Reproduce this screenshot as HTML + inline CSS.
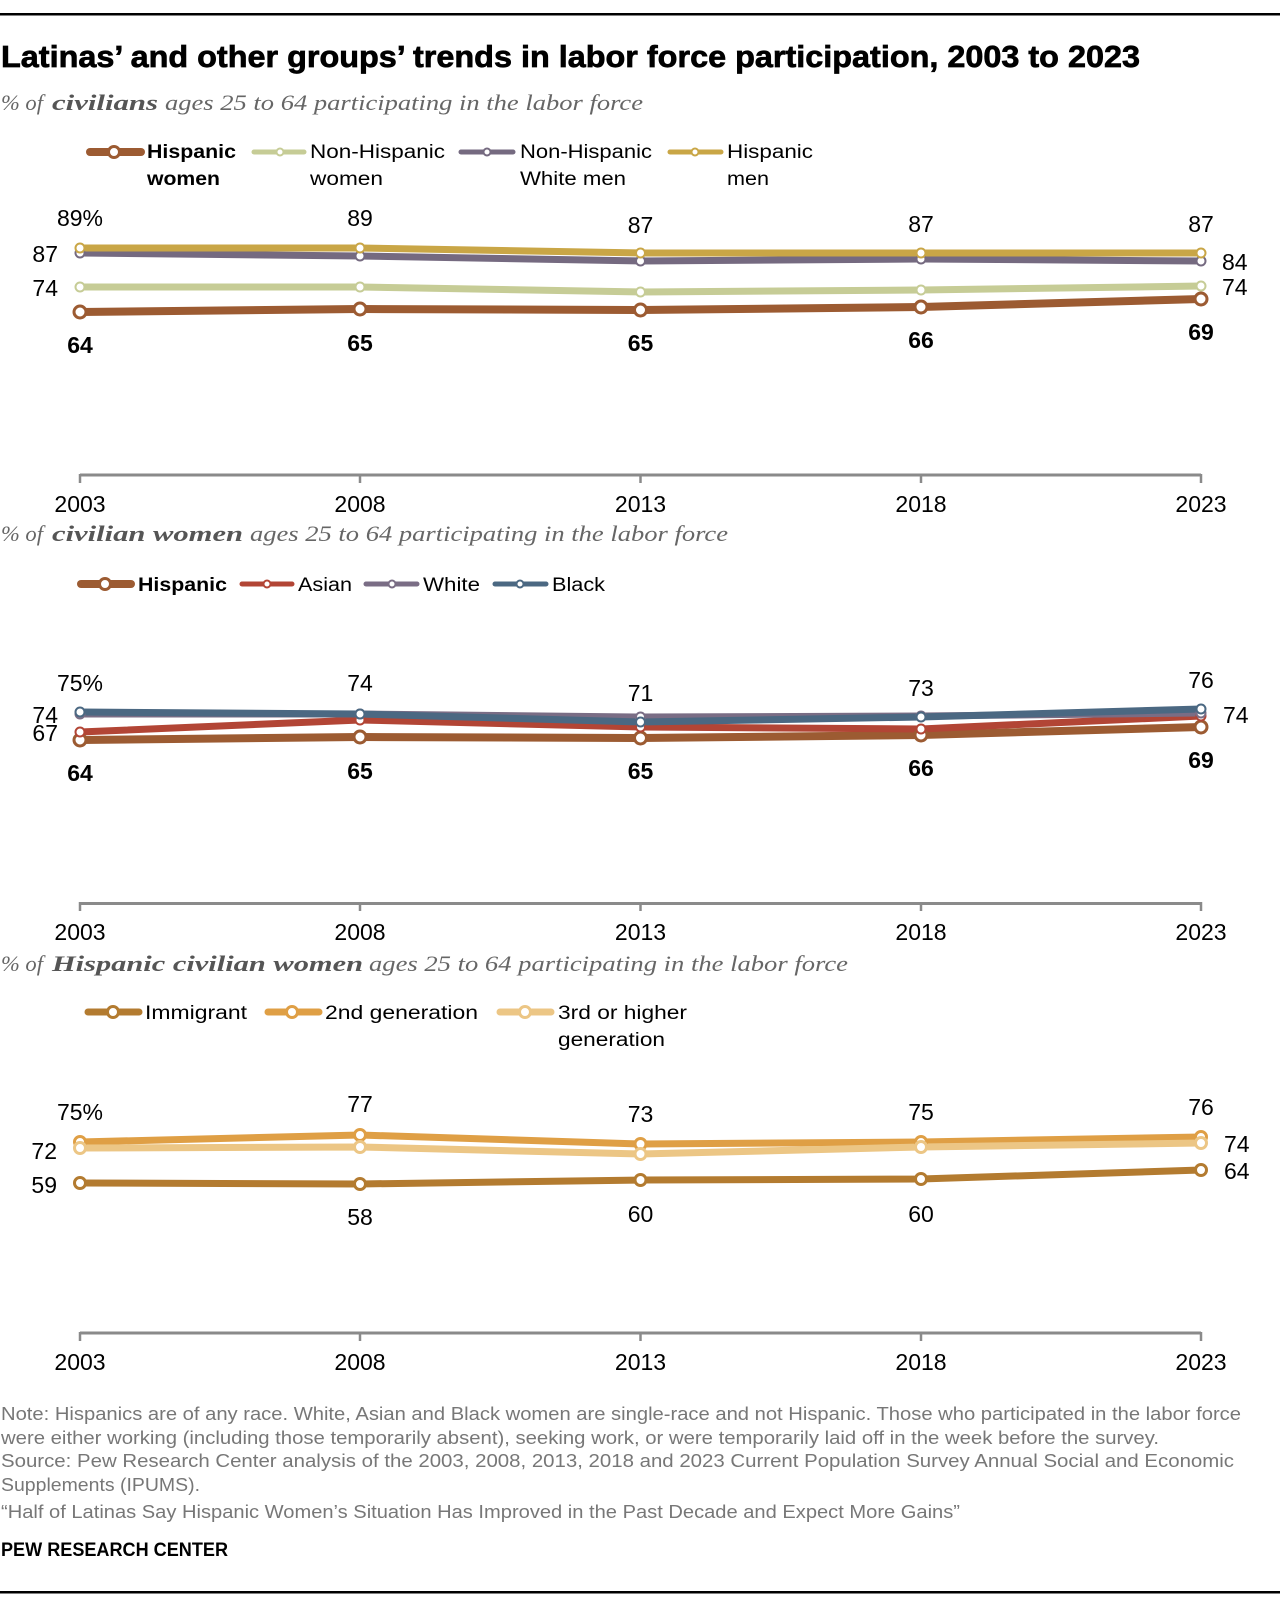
<!DOCTYPE html>
<html>
<head>
<meta charset="utf-8">
<style>
  html,body{margin:0;padding:0;background:#fff;}
  svg{display:block;}
  .t{font-family:"Liberation Sans",sans-serif;}
  .s{font-family:"Liberation Serif",serif;font-style:italic;}
</style>
</head>
<body>
<svg width="1280" height="1608" viewBox="0 0 1280 1608" xmlns="http://www.w3.org/2000/svg">
  <rect width="1280" height="1608" fill="#fff"/>
  <!-- top rule -->
  <rect x="0" y="13" width="1280" height="2.5" fill="#000"/>

  <!-- Title -->
  <text class="t" x="1" y="67" font-size="31" font-weight="bold" fill="#000" stroke="#000" stroke-width="0.7" textLength="1139" lengthAdjust="spacingAndGlyphs">Latinas’ and other groups’ trends in labor force participation, 2003 to 2023</text>

  <!-- Subtitle 1 -->
  <text class="s" x="1" y="110" font-size="22" fill="#666" textLength="42" lengthAdjust="spacingAndGlyphs">% of</text>
  <text class="s" x="52" y="110" font-size="22" font-weight="bold" fill="#555" textLength="106" lengthAdjust="spacingAndGlyphs">civilians</text>
  <text class="s" x="165" y="110" font-size="22" fill="#666" textLength="478" lengthAdjust="spacingAndGlyphs">ages 25 to 64 participating in the labor force</text>

  <!-- Legend 1 -->
  <g>
    <line x1="90" y1="152" x2="141" y2="152" stroke="#9c5b32" stroke-width="8" stroke-linecap="round"/>
    <circle cx="114" cy="152" r="5.5" fill="#fff" stroke="#9c5b32" stroke-width="3"/>
    <text class="t" x="147" y="158" font-size="19" font-weight="bold" fill="#000" textLength="89" lengthAdjust="spacingAndGlyphs">Hispanic</text>
    <text class="t" x="147" y="185" font-size="19" font-weight="bold" fill="#000" textLength="73" lengthAdjust="spacingAndGlyphs">women</text>

    <line x1="254" y1="152" x2="304" y2="152" stroke="#c6cc96" stroke-width="5" stroke-linecap="round"/>
    <circle cx="280" cy="152" r="3.5" fill="#fff" stroke="#c6cc96" stroke-width="2"/>
    <text class="t" x="310" y="158" font-size="19" fill="#000" textLength="135" lengthAdjust="spacingAndGlyphs">Non-Hispanic</text>
    <text class="t" x="310" y="185" font-size="19" fill="#000" textLength="73" lengthAdjust="spacingAndGlyphs">women</text>

    <line x1="461" y1="152" x2="513" y2="152" stroke="#756a80" stroke-width="5" stroke-linecap="round"/>
    <circle cx="487" cy="152" r="3.5" fill="#fff" stroke="#756a80" stroke-width="2"/>
    <text class="t" x="520" y="158" font-size="19" fill="#000" textLength="132" lengthAdjust="spacingAndGlyphs">Non-Hispanic</text>
    <text class="t" x="520" y="185" font-size="19" fill="#000" textLength="106" lengthAdjust="spacingAndGlyphs">White men</text>

    <line x1="670" y1="152" x2="721" y2="152" stroke="#c9a646" stroke-width="5" stroke-linecap="round"/>
    <circle cx="695" cy="152" r="3.5" fill="#fff" stroke="#c9a646" stroke-width="2"/>
    <text class="t" x="727" y="158" font-size="19" fill="#000" textLength="86" lengthAdjust="spacingAndGlyphs">Hispanic</text>
    <text class="t" x="727" y="185" font-size="19" fill="#000" textLength="42" lengthAdjust="spacingAndGlyphs">men</text>
  </g>

  <!-- Chart 1 series -->
  <g fill="none" stroke-linejoin="round" stroke-linecap="round">
    <polyline points="80,253 360,256 640.5,261 921,259 1201,261" stroke="#756a80" stroke-width="7"/>
    <polyline points="80,248 360,248 640.5,253 921,253 1201,253" stroke="#c9a646" stroke-width="7"/>
    <polyline points="80,287 360,287 640.5,292 921,290 1201,286" stroke="#c6cc96" stroke-width="7"/>
    <polyline points="80,312 360,309 640.5,310 921,307 1201,299" stroke="#9c5b32" stroke-width="8"/>
  </g>
  <g fill="#fff" stroke-width="2">
    <g stroke="#756a80"><circle cx="80" cy="253" r="4.5"/><circle cx="360" cy="256" r="4.5"/><circle cx="640.5" cy="261" r="4.5"/><circle cx="921" cy="259" r="4.5"/><circle cx="1201" cy="261" r="4.5"/></g>
    <g stroke="#c9a646"><circle cx="80" cy="248" r="4.5"/><circle cx="360" cy="248" r="4.5"/><circle cx="640.5" cy="253" r="4.5"/><circle cx="921" cy="253" r="4.5"/><circle cx="1201" cy="253" r="4.5"/></g>
    <g stroke="#c6cc96"><circle cx="80" cy="287" r="4.5"/><circle cx="360" cy="287" r="4.5"/><circle cx="640.5" cy="292" r="4.5"/><circle cx="921" cy="290" r="4.5"/><circle cx="1201" cy="286" r="4.5"/></g>
    <g stroke="#9c5b32" stroke-width="3"><circle cx="80" cy="312" r="6"/><circle cx="360" cy="309" r="6"/><circle cx="640.5" cy="310" r="6"/><circle cx="921" cy="307" r="6"/><circle cx="1201" cy="299" r="6"/></g>
  </g>
  <!-- Chart 1 labels -->
  <g class="t" font-size="23" fill="#000" text-anchor="middle">
    <text x="80" y="226">89%</text>
    <text x="360" y="226">89</text>
    <text x="640.5" y="233">87</text>
    <text x="921" y="232">87</text>
    <text x="1201" y="232">87</text>
  </g>
  <g class="t" font-size="23" fill="#000" text-anchor="end">
    <text x="58" y="262">87</text>
    <text x="58" y="296">74</text>
  </g>
  <g class="t" font-size="23" fill="#000">
    <text x="1222" y="270">84</text>
    <text x="1222" y="295">74</text>
  </g>
  <g class="t" font-size="23" font-weight="bold" fill="#000" text-anchor="middle">
    <text x="80" y="353">64</text>
    <text x="360" y="351">65</text>
    <text x="640.5" y="351">65</text>
    <text x="921" y="348">66</text>
    <text x="1201" y="340">69</text>
  </g>
  <!-- Axis 1 -->
  <g stroke="#8a8a8a">
    <line x1="80" y1="475" x2="1201" y2="475" stroke-width="3"/>
    <line x1="80" y1="474" x2="80" y2="483" stroke-width="2.5"/>
    <line x1="360" y1="474" x2="360" y2="483" stroke-width="2.5"/>
    <line x1="640.5" y1="474" x2="640.5" y2="483" stroke-width="2.5"/>
    <line x1="921" y1="474" x2="921" y2="483" stroke-width="2.5"/>
    <line x1="1201" y1="474" x2="1201" y2="483" stroke-width="2.5"/>
  </g>
  <g class="t" font-size="23" fill="#000" text-anchor="middle">
    <text x="80" y="512">2003</text>
    <text x="360" y="512">2008</text>
    <text x="640.5" y="512">2013</text>
    <text x="921" y="512">2018</text>
    <text x="1201" y="512">2023</text>
  </g>

  <!-- Subtitle 2 -->
  <text class="s" x="1" y="541" font-size="22" fill="#666" textLength="42" lengthAdjust="spacingAndGlyphs">% of</text>
  <text class="s" x="52" y="541" font-size="22" font-weight="bold" fill="#555" textLength="191" lengthAdjust="spacingAndGlyphs">civilian women</text>
  <text class="s" x="250" y="541" font-size="22" fill="#666" textLength="478" lengthAdjust="spacingAndGlyphs">ages 25 to 64 participating in the labor force</text>

  <!-- Legend 2 -->
  <g>
    <line x1="81" y1="584" x2="131" y2="584" stroke="#9c5b32" stroke-width="8" stroke-linecap="round"/>
    <circle cx="105" cy="584" r="5.5" fill="#fff" stroke="#9c5b32" stroke-width="3"/>
    <text class="t" x="138" y="591" font-size="19" font-weight="bold" fill="#000" textLength="89" lengthAdjust="spacingAndGlyphs">Hispanic</text>

    <line x1="242" y1="584" x2="292" y2="584" stroke="#b24535" stroke-width="5" stroke-linecap="round"/>
    <circle cx="267" cy="584" r="3.5" fill="#fff" stroke="#b24535" stroke-width="2"/>
    <text class="t" x="298" y="591" font-size="19" fill="#000" textLength="54" lengthAdjust="spacingAndGlyphs">Asian</text>

    <line x1="366" y1="584" x2="417" y2="584" stroke="#7a6d85" stroke-width="5" stroke-linecap="round"/>
    <circle cx="392" cy="584" r="3.5" fill="#fff" stroke="#7a6d85" stroke-width="2"/>
    <text class="t" x="423" y="591" font-size="19" fill="#000" textLength="57" lengthAdjust="spacingAndGlyphs">White</text>

    <line x1="495" y1="584" x2="546" y2="584" stroke="#4b6882" stroke-width="5" stroke-linecap="round"/>
    <circle cx="520" cy="584" r="3.5" fill="#fff" stroke="#4b6882" stroke-width="2"/>
    <text class="t" x="552" y="591" font-size="19" fill="#000" textLength="53" lengthAdjust="spacingAndGlyphs">Black</text>
  </g>

  <!-- Chart 2 series -->
  <g fill="none" stroke-linejoin="round" stroke-linecap="round">
    <polyline points="80,740 360,737 640.5,738 921,735 1201,727" stroke="#9c5b32" stroke-width="8"/>
    <polyline points="80,732 360,720 640.5,727 921,729 1201,716" stroke="#b24535" stroke-width="7"/>
    <polyline points="80,714 360,714 640.5,717 921,716 1201,713" stroke="#7a6d85" stroke-width="7"/>
    <polyline points="80,712 360,714 640.5,722 921,717 1201,709" stroke="#4b6882" stroke-width="7"/>
  </g>
  <g fill="#fff" stroke-width="2">
    <g stroke="#9c5b32" stroke-width="3"><circle cx="80" cy="740" r="6"/><circle cx="360" cy="737" r="6"/><circle cx="640.5" cy="738" r="6"/><circle cx="921" cy="735" r="6"/><circle cx="1201" cy="727" r="6"/></g>
    <g stroke="#b24535"><circle cx="80" cy="732" r="4.5"/><circle cx="360" cy="720" r="4.5"/><circle cx="640.5" cy="727" r="4.5"/><circle cx="921" cy="729" r="4.5"/><circle cx="1201" cy="716" r="4.5"/></g>
    <g stroke="#7a6d85"><circle cx="80" cy="714" r="4.5"/><circle cx="360" cy="714" r="4.5"/><circle cx="640.5" cy="717" r="4.5"/><circle cx="921" cy="716" r="4.5"/><circle cx="1201" cy="713" r="4.5"/></g>
    <g stroke="#4b6882"><circle cx="80" cy="712" r="4.5"/><circle cx="360" cy="714" r="4.5"/><circle cx="640.5" cy="722" r="4.5"/><circle cx="921" cy="717" r="4.5"/><circle cx="1201" cy="709" r="4.5"/></g>
  </g>
  <!-- Chart 2 labels -->
  <g class="t" font-size="23" fill="#000" text-anchor="middle">
    <text x="80" y="691">75%</text>
    <text x="360" y="691">74</text>
    <text x="640.5" y="701">71</text>
    <text x="921" y="696">73</text>
    <text x="1201" y="688">76</text>
  </g>
  <g class="t" font-size="23" fill="#000" text-anchor="end">
    <text x="58" y="723">74</text>
    <text x="58" y="741">67</text>
  </g>
  <g class="t" font-size="23" fill="#000">
    <text x="1223" y="723">74</text>
  </g>
  <g class="t" font-size="23" font-weight="bold" fill="#000" text-anchor="middle">
    <text x="80" y="781">64</text>
    <text x="360" y="779">65</text>
    <text x="640.5" y="779">65</text>
    <text x="921" y="776">66</text>
    <text x="1201" y="768">69</text>
  </g>
  <!-- Axis 2 -->
  <g stroke="#8a8a8a">
    <line x1="80" y1="903.5" x2="1201" y2="903.5" stroke-width="3"/>
    <line x1="80" y1="902" x2="80" y2="911" stroke-width="2.5"/>
    <line x1="360" y1="902" x2="360" y2="911" stroke-width="2.5"/>
    <line x1="640.5" y1="902" x2="640.5" y2="911" stroke-width="2.5"/>
    <line x1="921" y1="902" x2="921" y2="911" stroke-width="2.5"/>
    <line x1="1201" y1="902" x2="1201" y2="911" stroke-width="2.5"/>
  </g>
  <g class="t" font-size="23" fill="#000" text-anchor="middle">
    <text x="80" y="940">2003</text>
    <text x="360" y="940">2008</text>
    <text x="640.5" y="940">2013</text>
    <text x="921" y="940">2018</text>
    <text x="1201" y="940">2023</text>
  </g>

  <!-- Subtitle 3 -->
  <text class="s" x="1" y="971" font-size="22" fill="#666" textLength="42" lengthAdjust="spacingAndGlyphs">% of</text>
  <text class="s" x="52" y="971" font-size="22" font-weight="bold" fill="#555" textLength="311" lengthAdjust="spacingAndGlyphs">Hispanic civilian women</text>
  <text class="s" x="369" y="971" font-size="22" fill="#666" textLength="479" lengthAdjust="spacingAndGlyphs">ages 25 to 64 participating in the labor force</text>

  <!-- Legend 3 -->
  <g>
    <line x1="88" y1="1012" x2="139" y2="1012" stroke="#b37b30" stroke-width="7" stroke-linecap="round"/>
    <circle cx="113" cy="1012" r="5.5" fill="#fff" stroke="#b37b30" stroke-width="3"/>
    <text class="t" x="145" y="1019" font-size="19" fill="#000" textLength="102" lengthAdjust="spacingAndGlyphs">Immigrant</text>

    <line x1="268" y1="1012" x2="319" y2="1012" stroke="#df9f45" stroke-width="7" stroke-linecap="round"/>
    <circle cx="292" cy="1012" r="5.5" fill="#fff" stroke="#df9f45" stroke-width="3"/>
    <text class="t" x="325" y="1019" font-size="19" fill="#000" textLength="153" lengthAdjust="spacingAndGlyphs">2nd generation</text>

    <line x1="500" y1="1012" x2="551" y2="1012" stroke="#ecc685" stroke-width="7" stroke-linecap="round"/>
    <circle cx="525" cy="1012" r="5.5" fill="#fff" stroke="#ecc685" stroke-width="3"/>
    <text class="t" x="558" y="1019" font-size="19" fill="#000" textLength="129" lengthAdjust="spacingAndGlyphs">3rd or higher</text>
    <text class="t" x="558" y="1046" font-size="19" fill="#000" textLength="107" lengthAdjust="spacingAndGlyphs">generation</text>
  </g>

  <!-- Chart 3 series -->
  <g fill="none" stroke-linejoin="round" stroke-linecap="round">
    <polyline points="80,1183 360,1184 640.5,1180 921,1179 1201,1170" stroke="#b37b30" stroke-width="7"/>
    <polyline points="80,1142 360,1135 640.5,1144 921,1142 1201,1137" stroke="#df9f45" stroke-width="7"/>
    <polyline points="80,1148 360,1147 640.5,1154 921,1147 1201,1143" stroke="#ecc685" stroke-width="7"/>
  </g>
  <g fill="#fff" stroke-width="3">
    <g stroke="#b37b30"><circle cx="80" cy="1183" r="5.5"/><circle cx="360" cy="1184" r="5.5"/><circle cx="640.5" cy="1180" r="5.5"/><circle cx="921" cy="1179" r="5.5"/><circle cx="1201" cy="1170" r="5.5"/></g>
    <g stroke="#df9f45"><circle cx="80" cy="1142" r="5.5"/><circle cx="360" cy="1135" r="5.5"/><circle cx="640.5" cy="1144" r="5.5"/><circle cx="921" cy="1142" r="5.5"/><circle cx="1201" cy="1137" r="5.5"/></g>
    <g stroke="#ecc685"><circle cx="80" cy="1148" r="5.5"/><circle cx="360" cy="1147" r="5.5"/><circle cx="640.5" cy="1154" r="5.5"/><circle cx="921" cy="1147" r="5.5"/><circle cx="1201" cy="1143" r="5.5"/></g>
  </g>
  <!-- Chart 3 labels -->
  <g class="t" font-size="23" fill="#000" text-anchor="middle">
    <text x="80" y="1120">75%</text>
    <text x="360" y="1112">77</text>
    <text x="640.5" y="1122">73</text>
    <text x="921" y="1120">75</text>
    <text x="1201" y="1115">76</text>
    <text x="360" y="1225">58</text>
    <text x="640.5" y="1222">60</text>
    <text x="921" y="1222">60</text>
  </g>
  <g class="t" font-size="23" fill="#000" text-anchor="end">
    <text x="57" y="1159">72</text>
    <text x="57" y="1193">59</text>
  </g>
  <g class="t" font-size="23" fill="#000">
    <text x="1224" y="1152">74</text>
    <text x="1224" y="1179">64</text>
  </g>
  <!-- Axis 3 -->
  <g stroke="#8a8a8a">
    <line x1="80" y1="1333" x2="1201" y2="1333" stroke-width="3"/>
    <line x1="80" y1="1332" x2="80" y2="1341" stroke-width="2.5"/>
    <line x1="360" y1="1332" x2="360" y2="1341" stroke-width="2.5"/>
    <line x1="640.5" y1="1332" x2="640.5" y2="1341" stroke-width="2.5"/>
    <line x1="921" y1="1332" x2="921" y2="1341" stroke-width="2.5"/>
    <line x1="1201" y1="1332" x2="1201" y2="1341" stroke-width="2.5"/>
  </g>
  <g class="t" font-size="23" fill="#000" text-anchor="middle">
    <text x="80" y="1370">2003</text>
    <text x="360" y="1370">2008</text>
    <text x="640.5" y="1370">2013</text>
    <text x="921" y="1370">2018</text>
    <text x="1201" y="1370">2023</text>
  </g>

  <!-- Footer -->
  <g class="t" font-size="18" fill="#777">
    <text x="1" y="1420" textLength="1240" lengthAdjust="spacingAndGlyphs">Note: Hispanics are of any race. White, Asian and Black women are single-race and not Hispanic. Those who participated in the labor force</text>
    <text x="1" y="1444" textLength="1158" lengthAdjust="spacingAndGlyphs">were either working (including those temporarily absent), seeking work, or were temporarily laid off in the week before the survey.</text>
    <text x="1" y="1467" textLength="1233" lengthAdjust="spacingAndGlyphs">Source: Pew Research Center analysis of the 2003, 2008, 2013, 2018 and 2023 Current Population Survey Annual Social and Economic</text>
    <text x="1" y="1491" textLength="199" lengthAdjust="spacingAndGlyphs">Supplements (IPUMS).</text>
    <text x="1" y="1518" textLength="959" lengthAdjust="spacingAndGlyphs">“Half of Latinas Say Hispanic Women’s Situation Has Improved in the Past Decade and Expect More Gains”</text>
  </g>
  <text class="t" x="1" y="1556" font-size="19" font-weight="bold" fill="#000" textLength="227" lengthAdjust="spacingAndGlyphs">PEW RESEARCH CENTER</text>

  <!-- bottom rule -->
  <rect x="0" y="1591" width="1280" height="2.5" fill="#000"/>
</svg>
</body>
</html>
